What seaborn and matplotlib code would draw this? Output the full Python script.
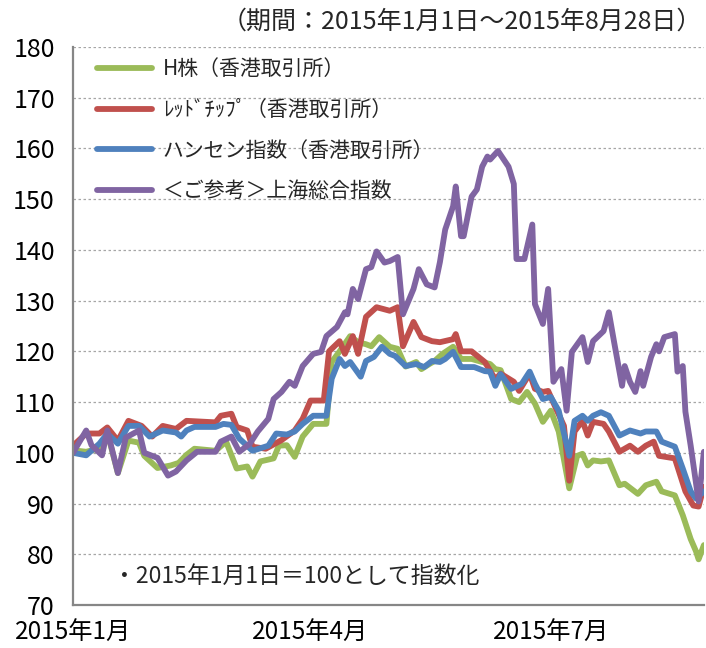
import pandas as pd
import matplotlib
matplotlib.use("Agg")
import matplotlib.pyplot as plt
import seaborn as sns

START = pd.Timestamp("2015-01-01")
END = pd.Timestamp("2015-08-28")

series_names = [
    "H株（香港取引所）",
    "ﾚｯﾄﾞﾁｯﾌﾟ（香港取引所）",
    "ハンセン指数（香港取引所）",
    "＜ご参考＞上海総合指数",
]
series_colors = ["#9BBB59", "#C0504D", "#4F81BD", "#8064A2"]

# days since 2015-01-01 / index values (2015-01-01 = 100)
h_days = [0, 5, 11, 13, 17, 21, 25, 27, 32, 37, 40, 43, 46, 54, 58, 62, 66, 68, 71, 76,
          78, 81, 84, 87, 91, 96, 98, 101, 105, 108, 111, 113, 116, 120, 123, 126, 130, 132,
          135, 137, 140, 144, 147, 151, 155, 158, 160, 162, 166, 169, 172, 175, 178, 181,
          184, 188, 191, 193, 195, 197, 200, 203, 207, 209, 214, 217, 221, 223, 228, 231,
          234, 236, 237, 239]
h_vals = [100.5, 100.2, 101, 104, 96, 102.4, 102, 99.4, 97, 97.5, 98, 99.6, 100.8, 100.4,
          102.2, 96.9, 97.3, 95.3, 98.3, 98.9, 101.4, 101.5, 99.2, 103.2, 105.7, 105.7, 117.9,
          120, 123, 121.8, 121.4, 121, 122.8, 120.9, 120.5, 117, 117.9, 116.5, 117.5, 118.1,
          119.5, 120.9, 118.5, 118.5, 117.9, 117.5, 116.5, 116.3, 110.6, 110, 112, 109.7,
          106.1, 108.3, 104.2, 93, 99.4, 99.8, 97.5, 98.5, 98.3, 98.5, 93.6, 93.9, 91.9, 93.6,
          94.3, 92.4, 91.6, 87.7, 83, 80.6, 79, 81.8]

red_days = [0, 5, 10, 13, 17, 21, 26, 30, 34, 39, 43, 54, 56, 60, 62, 66, 68, 73, 79, 84,
            87, 90, 95, 97, 101, 103, 106, 108, 111, 115, 120, 123, 125, 129, 132, 136, 139,
            144, 145, 147, 151, 156, 160, 162, 167, 169, 173, 175, 178, 180, 183, 186, 188,
            190, 193, 195, 197, 201, 203, 207, 211, 214, 217, 220, 222, 228, 232, 235, 237,
            239]
red_vals = [101.4, 103.8, 103.8, 105, 102.4, 106.3, 105.3, 103.2, 105.3, 104.7, 106.3, 106,
            107.3, 107.7, 105.1, 104.4, 101.2, 100.8, 102.5, 104.4, 106.7, 110.3, 110.3, 120,
            122, 119.5, 123, 119.5, 126.8, 128.7, 128, 128.7, 121, 125.8, 122.8, 122, 121.8,
            122.4, 123.4, 120, 120, 117.9, 114.5, 115.6, 114, 112.2, 115.6, 112.6, 112, 112.2,
            108.7, 105.3, 94.5, 104.2, 106.3, 103.4, 106.1, 105.7, 104.2, 100.2, 101.4, 100.2,
            101.4, 102.2, 99.4, 98.9, 92.4, 89.6, 89.4, 93.3]

hsi_days = [0, 5, 10, 13, 17, 21, 25, 29, 34, 39, 41, 43, 46, 54, 57, 60, 63, 68, 74, 77,
            81, 84, 87, 91, 96, 98, 101, 103, 105, 109, 111, 114, 117, 120, 122, 126, 130,
            133, 136, 139, 141, 144, 147, 152, 156, 158, 160, 162, 166, 170, 173, 175, 178,
            181, 184, 188, 190, 193, 195, 197, 200, 203, 207, 211, 215, 217, 221, 223, 228,
            231, 234, 236, 239]
hsi_vals = [100, 99.5, 101.8, 103.8, 101.8, 105.3, 105.3, 103.2, 104.4, 104, 103.2, 104.4,
            105.1, 105.1, 105.7, 105.5, 102.8, 100.4, 101.4, 103.8, 103.6, 104.2, 105.7, 107.3,
            107.3, 114.6, 118.5, 117.1, 117.9, 115, 118.1, 118.9, 120.9, 119.5, 119.1, 117.1,
            117.5, 116.9, 118.1, 117.9, 118.5, 119.9, 116.9, 116.9, 116.1, 116, 113.2, 115.5,
            112.6, 113.6, 116, 113.6, 110.6, 111, 108.3, 99.4, 106.3, 107.3, 106.3, 107.3, 108,
            107.3, 103.4, 104.4, 103.8, 104.2, 104.2, 102.2, 101.2, 96.9, 92.4, 91, 92.4]

sh_days = [0, 5, 7, 11, 13, 17, 20, 25, 27, 32, 36, 39, 43, 47, 54, 56, 60, 63, 67, 70, 74,
           76, 79, 82, 84, 87, 91, 94, 96, 100, 103, 104, 106, 108, 111, 113, 115, 118, 120,
           123, 125, 129, 131, 134, 137, 139, 141, 144, 145, 147, 148, 151, 153, 155, 157,
           158, 161, 165, 167, 168, 171, 174, 175, 178, 180, 182, 185, 187, 189, 193, 195,
           197, 201, 203, 205, 208, 209, 211, 213, 215, 216, 219, 221, 222, 224, 228, 229,
           231, 232, 234, 237, 239]
sh_vals = [100, 104.4, 101.5, 99.5, 104.4, 96, 103, 104.4, 100, 99, 95.5, 96.3, 98.5, 100.2,
           100.2, 102.2, 103.2, 100.2, 101.8, 104.2, 106.7, 110.6, 112, 114, 113.2, 117.1,
           119.5, 119.9, 123, 124.8, 127.7, 127.3, 132.3, 130.3, 136.2, 136.6, 139.7, 137.5,
           137.8, 138.6, 127.3, 132.3, 136.2, 133.2, 132.6, 137.6, 144, 148.6, 152.5, 142.7,
           142.7, 150.5, 151.9, 156.4, 158.4, 157.8, 159.5, 156.4, 153, 138.2, 138.2, 145,
           129.3, 125.4, 132.3, 114, 116.5, 108.3, 119.9, 122.8, 117.9, 122, 124, 127.7, 121.8,
           113.2, 117.1, 114, 112, 116.1, 113.2, 118.9, 121.4, 120, 122.8, 123.4, 116, 117.1,
           108.1, 101.4, 90.4, 100.2]

tick_dates = ["2015-01-01", "2015-04-01", "2015-07-01"]
tick_labels = ["2015年1月", "2015年4月", "2015年7月"]

frames = []
for name, days, vals in zip(series_names,
                            [h_days, red_days, hsi_days, sh_days],
                            [h_vals, red_vals, hsi_vals, sh_vals]):
    frames.append(pd.DataFrame({
        "Date": START + pd.to_timedelta(days, unit="D"),
        "Index": vals,
        "Series": name,
    }))
df = pd.concat(frames, ignore_index=True)

sns.set_style("white")
plt.rcParams["font.family"] = ["Noto Sans CJK JP", "DejaVu Sans"]

fig = plt.figure(figsize=(7.06, 6.48), dpi=100)
# axes box: left 73px, right 704px, top 47px, bottom 605px
ax = fig.add_axes([0.1034, 0.0664, 0.8936, 0.8611])

sns.lineplot(data=df, x="Date", y="Index", hue="Series", hue_order=series_names,
             palette=series_colors, linewidth=4.2, estimator=None, sort=True,
             solid_joinstyle="round", ax=ax)

ax.set_xlim(START, END)
ax.set_ylim(70, 180)
ax.set_yticks(range(70, 181, 10))
ax.set_xticks(pd.to_datetime(tick_dates))
ax.set_xticklabels(tick_labels)
ax.set_xlabel("")
ax.set_ylabel("")

ax.yaxis.grid(True, linestyle=(0, (2, 2)), color="#A6A6A6", linewidth=0.9)
ax.xaxis.grid(False)
for side in ["top", "right"]:
    ax.spines[side].set_visible(False)
for side in ["left", "bottom"]:
    ax.spines[side].set_color("#868686")
    ax.spines[side].set_linewidth(1.6)
ax.tick_params(axis="both", which="major", direction="out", length=5, width=1.4,
               color="#868686", labelcolor="black")
ax.tick_params(axis="x", pad=6, labelsize=17.5)
ax.tick_params(axis="y", pad=8, labelsize=18)

leg = ax.legend(loc="upper left", bbox_to_anchor=(0.038, 0.98), frameon=False,
                fontsize=15, handlelength=2.65, handletextpad=0.5, labelspacing=0.9,
                borderpad=0, borderaxespad=0)
for line in leg.get_lines():
    line.set_linewidth(4.2)

fig.text(0.994, 0.966, "（期間：2015年1月1日～2015年8月28日）", ha="right", va="center",
         fontsize=18)
ax.text(0.064, 0.052, "・2015年1月1日＝100として指数化", transform=ax.transAxes,
        ha="left", va="center", fontsize=16.5)

fig.savefig("out.png", dpi=100)
